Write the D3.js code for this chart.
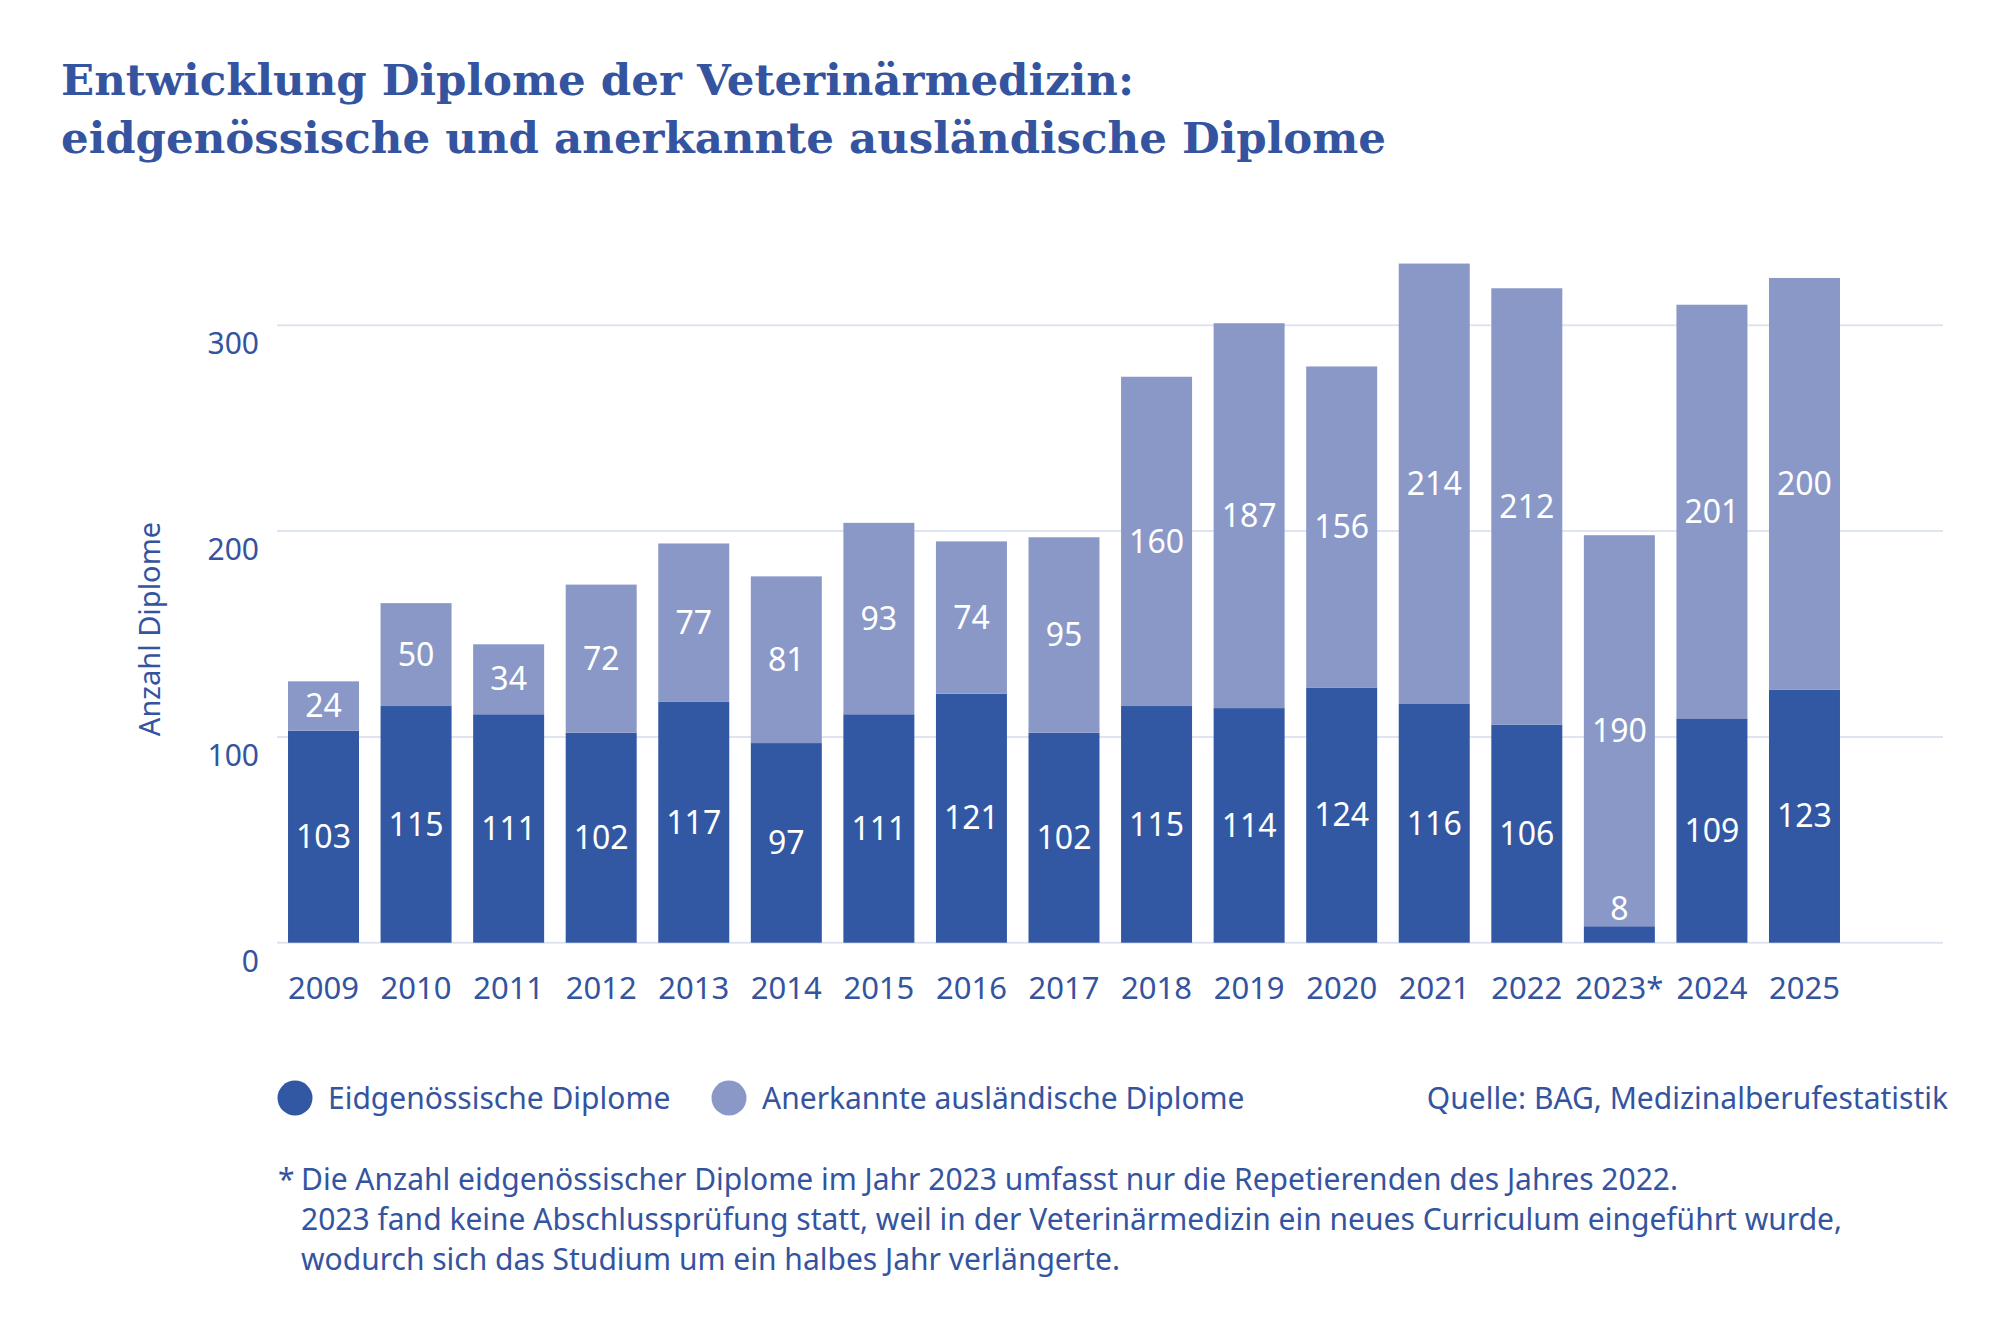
<!DOCTYPE html>
<html>
<head>
<meta charset="utf-8">
<script src="https://cdn.jsdelivr.net/npm/d3@7"></script>
<style>
  body { margin: 0; background: #fff; }
  text { font-family: "Noto Sans", sans-serif; }
</style>
</head>
<body>
<svg id="chart"></svg>
<script>
// data
const years = ["2009", "2010", "2011", "2012", "2013", "2014", "2015", "2016", "2017",
               "2018", "2019", "2020", "2021", "2022", "2023*", "2024", "2025"];
const eidgenoessisch = [103, 115, 111, 102, 117, 97, 111, 121, 102, 115, 114, 124, 116, 106, 8, 109, 123];
const auslaendisch = [24, 50, 34, 72, 77, 81, 93, 74, 95, 160, 187, 156, 214, 212, 190, 201, 200];
const yTicks = [0, 100, 200, 300];
const seriesKeys = ["eidg", "ausl"];
const seriesNames = ["Eidgenössische Diplome", "Anerkannte ausländische Diplome"];
const titleLines = ["Entwicklung Diplome der Veterinärmedizin:",
                    "eidgenössische und anerkannte ausländische Diplome"];
const yLabel = "Anzahl Diplome";
const source = "Quelle: BAG, Medizinalberufestatistik";
const footnoteLines = ["Die Anzahl eidgenössischer Diplome im Jahr 2023 umfasst nur die Repetierenden des Jahres 2022.",
                       "2023 fand keine Abschlussprüfung statt, weil in der Veterinärmedizin ein neues Curriculum eingeführt wurde,",
                       "wodurch sich das Studium um ein halbes Jahr verlängerte."];

const width = 2008, height = 1329;
const blue = "#3454a0";
const colors = { eidg: "#3358a3", ausl: "#8a98c8" };
const gridColor = "#dfe4f1";

const svg = d3.select("#chart").attr("width", width).attr("height", height);
svg.append("rect").attr("width", width).attr("height", height).attr("fill", "#fff");

// title
svg.append("g").selectAll("text")
  .data(titleLines)
  .enter().append("text")
  .attr("x", 61)
  .attr("y", (d, i) => 95 + i * 58.3)
  .style("font-family", "'DejaVu Serif', serif")
  .style("font-weight", "bold")
  .attr("font-size", 43.5)
  .attr("fill", blue)
  .text(d => d);

const rows = years.map((y, i) => ({ year: y, eidg: eidgenoessisch[i], ausl: auslaendisch[i] }));
const stacked = d3.stack().keys(seriesKeys)(rows);

const x = d3.scaleBand().domain(years).range([277, 1851]).paddingInner(0.233).paddingOuter(0.119);
const y = d3.scaleLinear().domain([0, 300]).range([942.7, 325.3]);

// grid
const grid = svg.append("g");
grid.selectAll("line").data(yTicks).enter().append("line")
  .attr("x1", 277).attr("x2", 1943)
  .attr("y1", d => y(d)).attr("y2", d => y(d))
  .attr("stroke", gridColor).attr("stroke-width", 2);

// y axis labels
const yAxis = svg.append("g").attr("transform", "translate(259,0)")
  .call(d3.axisLeft(y).tickValues(yTicks).tickSize(0).tickPadding(0));
yAxis.select(".domain").remove();
yAxis.selectAll("text")
  .attr("dy", "0.35em")
  .attr("transform", "translate(0,18)")
  .attr("font-size", 30)
  .attr("fill", blue)
  .style("font-family", "'Noto Sans', sans-serif");

svg.append("text")
  .attr("transform", "translate(160,629) rotate(-90)")
  .attr("text-anchor", "middle")
  .attr("font-size", 29)
  .attr("fill", blue)
  .text(yLabel);

// x axis labels
const xAxis = svg.append("g").attr("transform", `translate(0,${y(0)})`)
  .call(d3.axisBottom(x).tickSize(0).tickPadding(0));
xAxis.select(".domain").remove();
xAxis.selectAll("text")
  .attr("y", 45)
  .attr("dy", "0.35em")
  .attr("font-size", 31)
  .attr("fill", blue)
  .style("font-family", "'Noto Sans', sans-serif");

// bars
const layers = svg.append("g").selectAll("g")
  .data(stacked)
  .enter().append("g")
  .attr("fill", d => colors[d.key]);

layers.selectAll("rect")
  .data(d => d)
  .enter().append("rect")
  .attr("x", d => x(d.data.year))
  .attr("y", d => y(d[1]))
  .attr("width", x.bandwidth())
  .attr("height", d => y(d[0]) - y(d[1]));

// value labels, drawn over all bars; too small segments get the label above
const labels = stacked.flatMap(s => s.map(v => ({ v, key: s.key })));
svg.append("g").selectAll("text")
  .data(labels)
  .enter().append("text")
  .attr("x", d => x(d.v.data.year) + x.bandwidth() / 2)
  .attr("y", d => {
    const top = y(d.v[1]), bottom = y(d.v[0]);
    if (bottom - top < 40) return top - 17.5;
    return (top + bottom) / 2;
  })
  .attr("dy", "0.35em")
  .attr("text-anchor", "middle")
  .attr("font-size", 32)
  .attr("fill", "#fff")
  .text(d => d.v.data[d.key]);

// legend
const legend = svg.append("g").selectAll("g")
  .data(seriesNames)
  .enter().append("g")
  .attr("transform", (d, i) => `translate(${[295, 729][i]},1098)`);
legend.append("circle").attr("r", 17.5).attr("fill", (d, i) => colors[seriesKeys[i]]);
legend.append("text")
  .attr("x", 33).attr("y", 11)
  .attr("font-size", 30)
  .attr("fill", blue)
  .text(d => d);

svg.append("text")
  .attr("x", 1948).attr("y", 1109)
  .attr("text-anchor", "end")
  .attr("font-size", 30)
  .attr("fill", blue)
  .text(source);

// footnote
svg.append("text")
  .attr("x", 278).attr("y", 1190)
  .attr("font-size", 30)
  .attr("fill", blue)
  .text("*");
svg.append("g").selectAll("text")
  .data(footnoteLines)
  .enter().append("text")
  .attr("x", 301)
  .attr("y", (d, i) => 1190 + i * 40)
  .attr("font-size", 30)
  .attr("fill", blue)
  .text(d => d);
</script>
</body>
</html>
